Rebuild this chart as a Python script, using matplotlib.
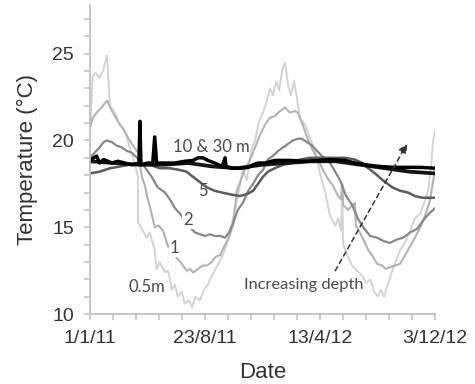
import numpy as np
import matplotlib
matplotlib.use('Agg')
import matplotlib.pyplot as plt
from matplotlib.ticker import AutoMinorLocator

plt.rcParams['font.family'] = ['Liberation Sans', 'DejaVu Sans']

start = np.datetime64('2011-01-01')

# days since 1/1/11, temperature (degC)
d05 = [0, 6, 12, 20, 28, 35, 41, 51, 61, 71, 81, 92, 98, 98, 108, 116, 122, 132, 136, 142,
       153, 159, 167, 173, 179, 187, 193, 201, 208, 214, 224, 232, 240, 248, 256, 265, 275,
       285, 293, 301, 311, 319, 328, 336, 344, 352, 360, 366, 372, 379, 385, 391, 397, 403,
       409, 415, 421, 427, 438, 448, 458, 468, 478, 488, 499, 505, 511, 513, 515, 523, 533,
       543, 554, 562, 570, 578, 586, 592, 598, 606, 615, 623, 631, 639, 651, 661, 672, 682,
       688, 694, 698, 702]
t05 = [20.2, 23.7, 23.9, 23.6, 24.1, 24.9, 22.0, 21.6, 20.9, 20.6, 19.6, 18.6, 17.9, 15.3,
       14.8, 14.4, 14.7, 13.7, 12.6, 13.0, 12.4, 12.5, 11.4, 11.7, 11.0, 11.3, 10.6, 10.8,
       10.4, 11.0, 10.8, 11.4, 11.7, 12.2, 12.6, 13.1, 13.7, 14.8, 15.7, 16.8, 18.3, 17.7,
       19.4, 20.0, 21.1, 21.6, 22.3, 23.0, 22.6, 23.4, 22.9, 24.0, 24.5, 23.2, 22.6, 23.4,
       22.5, 21.3, 20.9, 20.1, 19.4, 18.1, 17.1, 15.7, 15.1, 15.5, 14.8, 17.5, 14.0, 13.4,
       12.8, 12.5, 12.2, 11.8, 12.0, 11.3, 11.0, 11.4, 11.0, 11.7, 12.5, 13.1, 13.7, 14.0,
       14.8, 15.5, 15.8, 16.6, 17.1, 18.6, 20.0, 20.6]

d1 = [0, 6, 14, 24, 35, 45, 57, 67, 77, 88, 98, 106, 112, 118, 124, 132, 140, 149, 159, 167,
      175, 187, 197, 204, 210, 220, 230, 238, 248, 256, 265, 275, 283, 291, 299, 307, 315,
      326, 336, 346, 356, 366, 376, 387, 397, 407, 417, 423, 433, 444, 454, 464, 474, 484,
      494, 505, 511, 513, 515, 525, 535, 539, 541, 549, 556, 566, 576, 584, 594, 602, 610,
      621, 631, 641, 651, 661, 672, 682, 692, 702]
t1 = [20.7, 21.3, 21.6, 21.9, 22.3, 21.7, 21.1, 20.7, 20.2, 19.7, 19.3, 17.9, 17.4, 16.6,
      16.0, 15.0, 15.1, 14.8, 13.9, 13.7, 13.3, 12.9, 12.5, 12.6, 12.4, 12.6, 12.8, 12.8,
      13.0, 13.3, 13.4, 14.0, 14.4, 15.1, 17.1, 17.7, 18.3, 18.9, 19.6, 20.3, 20.9, 21.3,
      21.4, 21.7, 21.9, 21.6, 21.7, 21.6, 20.9, 20.0, 19.4, 18.9, 18.3, 17.8, 17.4, 16.8,
      16.6, 17.5, 16.3, 16.0, 16.3, 16.4, 15.1, 14.7, 14.3, 13.7, 13.3, 12.9, 12.8, 12.6,
      12.7, 12.8, 12.9, 13.4, 13.9, 14.4, 15.0, 15.7, 16.6, 18.4]

d2 = [0, 10, 20, 28, 35, 45, 55, 65, 75, 85, 96, 106, 116, 126, 138, 153, 163, 173, 183, 193,
      204, 214, 224, 234, 244, 254, 265, 275, 283, 291, 301, 311, 322, 332, 342, 352, 362,
      372, 383, 393, 403, 413, 423, 431, 442, 452, 462, 472, 484, 497, 509, 521, 533, 545,
      556, 570, 584, 598, 610, 625, 637, 651, 665, 678, 690, 702]
t2 = [19.0, 19.3, 19.6, 19.9, 20.0, 19.9, 19.7, 19.6, 19.4, 19.3, 19.0, 18.7, 18.3, 17.9,
      17.3, 17.0, 16.6, 16.1, 15.8, 15.4, 15.0, 14.7, 14.6, 14.5, 14.6, 14.5, 14.5, 14.4,
      14.7, 15.2, 16.0, 16.4, 17.1, 17.5, 18.0, 18.3, 18.9, 19.1, 19.4, 19.6, 19.8, 20.0,
      20.1, 20.1, 19.9, 19.7, 19.4, 19.1, 18.9, 18.3, 17.7, 16.8, 16.3, 15.5, 15.0, 14.5,
      14.4, 14.2, 14.1, 14.3, 14.4, 14.7, 14.9, 15.4, 15.8, 16.1]

d5 = [0, 20, 41, 61, 81, 102, 122, 142, 163, 183, 197, 210, 224, 238, 254, 269, 285, 305, 319,
      332, 342, 352, 362, 376, 393, 411, 427, 448, 464, 488, 519, 539, 554, 566, 580, 596,
      615, 631, 647, 661, 676, 702]
t5 = [18.1, 18.2, 18.4, 18.5, 18.6, 18.6, 18.6, 18.4, 18.4, 18.3, 18.2, 17.9, 17.6, 17.3,
      17.1, 17.0, 16.9, 16.8, 16.9, 17.1, 17.5, 17.9, 18.2, 18.4, 18.6, 18.7, 18.9, 19.0,
      19.0, 19.0, 19.0, 18.9, 18.7, 18.4, 18.1, 17.7, 17.3, 17.1, 17.0, 16.8, 16.7, 16.7]

d10 = [0, 8, 14, 20, 28, 37, 45, 57, 71, 85, 100, 102, 104, 118, 128, 132, 136, 153, 173, 193,
       210, 220, 230, 240, 254, 269, 275, 277, 289, 305, 322, 332, 342, 356, 376, 407, 438,
       464, 488, 519, 539, 560, 590, 621, 651, 672, 702]
t10 = [18.85, 19.0, 19.1, 18.7, 18.9, 18.8, 18.7, 18.8, 18.7, 18.6, 18.7, 21.1, 18.6, 18.7,
       18.7, 20.2, 18.7, 18.7, 18.7, 18.8, 18.85, 19.0, 19.0, 18.85, 18.7, 18.5, 19.0, 18.5,
       18.4, 18.4, 18.45, 18.6, 18.7, 18.7, 18.85, 18.85, 18.8, 18.85, 18.9, 18.85, 18.7,
       18.6, 18.5, 18.45, 18.45, 18.45, 18.4]

d30 = [0, 50, 100, 150, 200, 250, 300, 350, 400, 450, 500, 550, 600, 650, 702]
t30 = [18.8, 18.7, 18.6, 18.6, 18.7, 18.5, 18.4, 18.6, 18.7, 18.8, 18.8, 18.6, 18.4, 18.2, 18.1]

tick_days = [0, 234, 468, 702]
tick_labels = ['1/1/11', '23/8/11', '13/4/12', '3/12/12']


def dates(days):
    return start + np.array(days).astype('timedelta64[D]')


fig = plt.figure(figsize=(4.75, 3.84), dpi=100)
ax = fig.add_axes([0.189, 0.182, 0.727, 0.805])

ax.plot(dates(d05), t05, color='#d3d3d3', lw=1.4)
ax.plot(dates(d1), t1, color='#b3b3b3', lw=1.5)
ax.plot(dates(d2), t2, color='#878787', lw=1.6)
ax.plot(dates(d5), t5, color='#5c5c5c', lw=1.8)
ax.plot(dates(d30), t30, color='#141414', lw=2.7)
ax.plot(dates(d10), t10, color='#000000', lw=2.5)

lab = dict(family=['Lato', 'DejaVu Sans'], fontsize=12, color='#4a4a4a', ha='center', va='center')
bg = dict(facecolor='white', edgecolor='none', pad=0.5)
ax.text(dates(248), 19.6, '10 & 30 m', **lab)
ax.text(dates(231), 17.1, '5', **lab)
ax.text(dates(199), 15.4, '2', bbox=bg, **lab)
ax.text(dates(173), 13.8, '1', bbox=bg, **lab)
ax.text(dates(116), 11.55, '0.5m', **lab)
ax.text(dates(313), 11.67, 'Increasing depth', family=['Lato', 'DejaVu Sans'], fontsize=11.8,
        color='#4a4a4a', ha='left', va='center')
ax.annotate('', xy=(dates(645), 19.8), xytext=(dates(499), 12.5),
            arrowprops=dict(arrowstyle='-|>', linestyle=(0, (3, 2.5)), color='#333333',
                            lw=1.1, mutation_scale=13, shrinkA=0, shrinkB=0))

ax.set_xlim(dates(0), dates(702))
ax.set_ylim(10, 27.8)
ax.set_xticks(dates(tick_days))
ax.set_xticklabels(tick_labels)
ax.set_yticks([10, 15, 20, 25])
ax.xaxis.set_minor_locator(AutoMinorLocator(5))
ax.yaxis.set_minor_locator(AutoMinorLocator(5))

for s in ['top', 'right']:
    ax.spines[s].set_visible(False)
for s in ['left', 'bottom']:
    ax.spines[s].set_color('#c0c0c0')
    ax.spines[s].set_linewidth(1.3)
ax.tick_params(which='both', direction='out', length=4.5, width=1.1, color='#c0c0c0',
               labelsize=14, labelcolor='#333333')
ax.tick_params(axis='y', pad=7)
ax.tick_params(axis='x', pad=7)

ax.set_xlabel('Date', fontsize=16, color='#333333', labelpad=11)
ax.set_ylabel('Temperature (°C)', fontsize=16, color='#333333', labelpad=10)

fig.savefig('out.png', dpi=100)
